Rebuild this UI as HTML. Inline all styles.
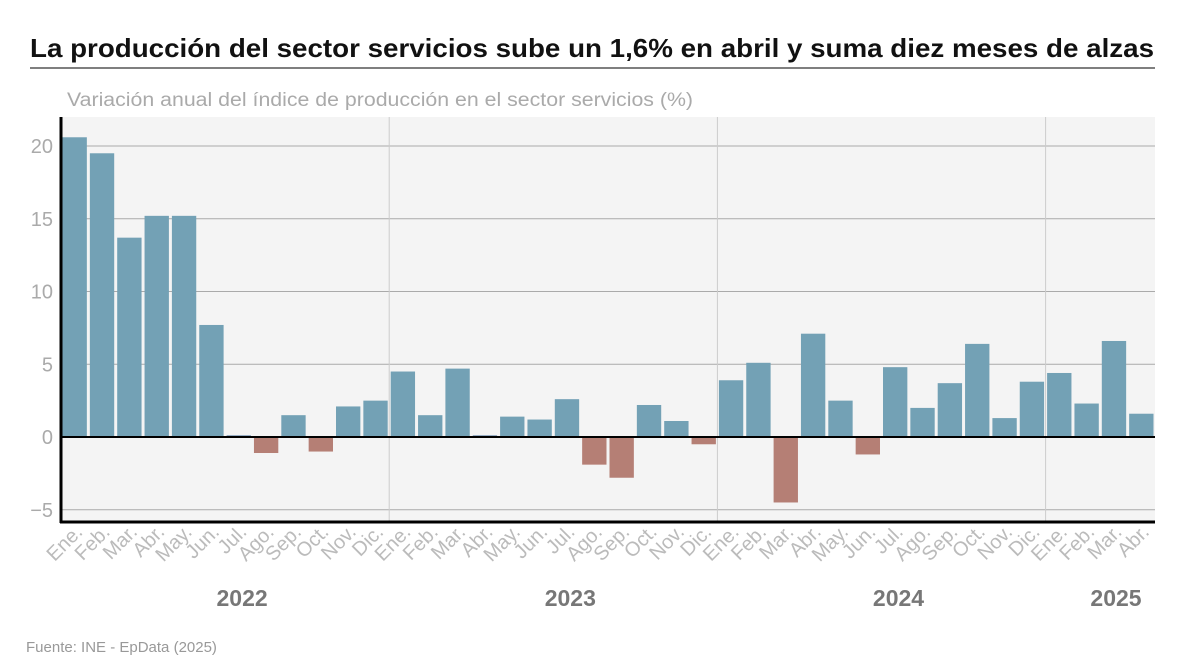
<!DOCTYPE html>
<html><head><meta charset="utf-8"><style>
body{margin:0;background:#fff;font-family:"Liberation Sans",sans-serif;}
</style></head><body>
<svg width="1200" height="667" xmlns="http://www.w3.org/2000/svg" font-family="Liberation Sans, sans-serif">
<text x="30" y="57" font-size="26" font-weight="bold" fill="#111" textLength="1124" lengthAdjust="spacingAndGlyphs">La producción del sector servicios sube un 1,6% en abril y suma diez meses de alzas</text>
<line x1="30" y1="68" x2="1155" y2="68" stroke="#555" stroke-width="1.5"/>
<text x="67" y="106" font-size="19" fill="#aaa" textLength="626" lengthAdjust="spacingAndGlyphs">Variación anual del índice de producción en el sector servicios (%)</text>
<rect x="61" y="117" width="1094" height="405" fill="#f4f4f4"/>
<g id="grid"></g><g id="bars"></g><g id="axes"></g>
<text x="26" y="652" font-size="15" fill="#999">Fuente: INE - EpData (2025)</text>
</svg>
<script>
const months=["Ene.","Feb.","Mar.","Abr.","May.","Jun.","Jul.","Ago.","Sep.","Oct.","Nov.","Dic."];
const years=["2022","2023","2024","2025"];
const values=[20.6,19.5,13.7,15.2,15.2,7.7,0.1,-1.1,1.5,-1.0,2.1,2.5,
4.5,1.5,4.7,0.1,1.4,1.2,2.6,-1.9,-2.8,2.2,1.1,-0.5,
3.9,5.1,-4.5,7.1,2.5,-1.2,4.8,2.0,3.7,6.4,1.3,3.8,
4.4,2.3,6.6,1.6];
const yTicks=[-5,0,5,10,15,20];
const NS="http://www.w3.org/2000/svg";
const x0=61,x1=1155,n=values.length,slot=(x1-x0)/n;
const y=v=>437-v*14.55;
const xs=i=>x0+i*slot;
function mk(t,a,p){const e=document.createElementNS(NS,t);for(const k in a)e.setAttribute(k,a[k]);p.appendChild(e);return e;}
const grid=document.getElementById('grid'),bars=document.getElementById('bars'),axes=document.getElementById('axes');
yTicks.forEach(t=>{
 if(t!==0){const l=mk('line',{x1:x0,x2:x1,y1:y(t),y2:y(t),stroke:'#aaa','stroke-width':1},grid);
 
 }
 const tx=mk('text',{x:53,y:y(t)+7,'font-size':20,fill:'#aaa','text-anchor':'end'},axes);
 tx.textContent=t<0?'\u2212'+Math.abs(t):String(t);
 
 
});
for(let yr=1;yr<years.length;yr++){
 const l=mk('line',{x1:xs(yr*12),x2:xs(yr*12),y1:117,y2:522,stroke:'#ccc','stroke-width':1},grid);
 
 
}
values.forEach((v,i)=>{
 const top=Math.min(y(v),y(0)),h=Math.max(Math.abs(y(v)-y(0)),1);
 const r=mk('rect',{x:xs(i)+1.5,y:top,width:slot-3,height:h,fill:v>=0.5?'#73a1b5':(v>=0?'#2b5c8a':'#b57f75')},bars);
 
 
 const cx=xs(i)+slot/2+9,cy=533;
 const t=mk('text',{x:cx,y:cy,'font-size':20,fill:'#bbb','text-anchor':'end',transform:`rotate(-45 ${cx} ${cy})`},axes);
 t.textContent=months[i%12];
 
 
});
years.forEach((yr,k)=>{
 const cnt=Math.min(12,n-k*12);
 const cx=k===3?xs(n)-39:xs(k*12)+cnt*slot/2+17;
 const t=mk('text',{x:cx,y:606,'font-size':23,'font-weight':'bold',fill:'#777','text-anchor':'middle'},axes);
 t.textContent=yr;
 
 
});
let l=mk('line',{x1:x0,x2:x1,y1:y(0),y2:y(0),stroke:'#000','stroke-width':2},axes);


l=mk('line',{x1:x0,x2:x0,y1:117,y2:523,stroke:'#000','stroke-width':3},axes);


l=mk('line',{x1:x0-1,x2:x1,y1:522,y2:522,stroke:'#000','stroke-width':3},axes);


</script>
</body></html>
